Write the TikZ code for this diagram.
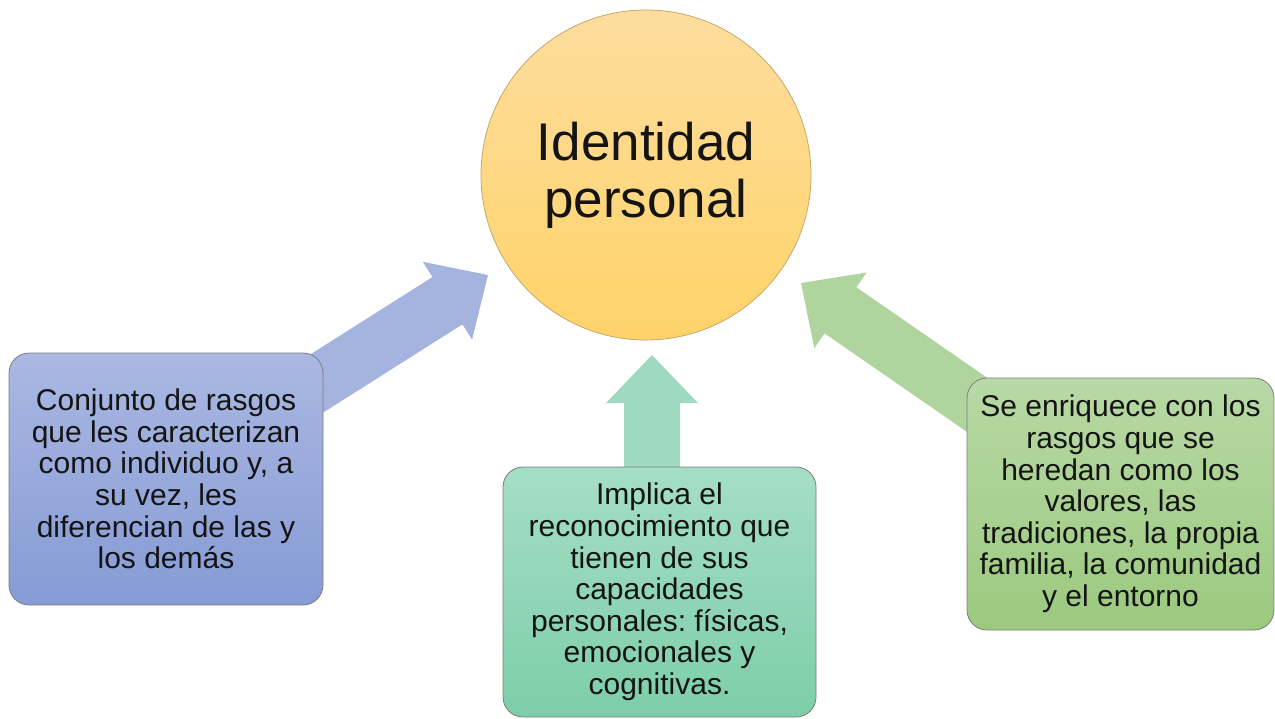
\documentclass[tikz,border=0pt]{standalone}
\usepackage{fontspec}
\setmainfont{Liberation Sans}
\usetikzlibrary{calc,backgrounds}
\frenchspacing
\definecolor{blueTop}{RGB}{170,184,226}
\definecolor{blueBot}{RGB}{134,155,213}
\definecolor{blueArr}{RGB}{164,180,223}
\definecolor{tealTop}{RGB}{165,222,198}
\definecolor{tealBot}{RGB}{125,206,168}
\definecolor{tealArr}{RGB}{160,217,193}
\definecolor{greenTop}{RGB}{184,217,166}
\definecolor{greenBot}{RGB}{155,201,126}
\definecolor{greenArr}{RGB}{176,212,158}
\definecolor{orTop}{RGB}{253,221,158}
\definecolor{orBot}{RGB}{255,211,105}
\definecolor{orLine}{RGB}{196,168,110}
\definecolor{boxLine}{RGB}{125,125,125}
\definecolor{txt}{RGB}{20,20,20}
% #1 colour, #2 start (named), #3 tip (named)
\newcommand\blockarr[3]{%
  \coordinate (hb) at ($(#3)!48pt!(#2)$);
  \fill[#1] ($(#2)!28pt!90:(#3)$) -- ($(hb)!28pt!90:(#3)$) -- ($(hb)!46pt!90:(#3)$)
    -- (#3) -- ($(hb)!46pt!-90:(#3)$) -- ($(hb)!28pt!-90:(#3)$) -- ($(#2)!28pt!-90:(#3)$) -- cycle;
}
\begin{document}
\begin{tikzpicture}[x=1pt,y=-1pt,
  box/.style={rounded corners=20pt, draw=boxLine, line width=0.8pt, align=center,
    inner sep=0pt, text=txt, font=\fontsize{30}{31.6}\selectfont\frenchspacing}]
\useasboundingbox (0,0) rectangle (1275,718);
\node[circle, minimum size=330pt, draw=orLine, line width=0.8pt, top color=orTop, bottom color=orBot,
  align=center, inner sep=0pt, text=txt, font=\fontsize{53}{57}\selectfont] (circ) at (646,175) {Identidad\\personal};
\node[box, top color=blueTop, bottom color=blueBot, minimum width=314pt, minimum height=252pt] (lbox) at (166,479)
  {Conjunto de rasgos\\que les caracterizan\\como individuo y, a\\su vez, les\\diferencian de las y\\los demás};
\node[box, top color=tealTop, bottom color=tealBot, minimum width=313pt, minimum height=250pt] (mbox) at (659.5,592)
  {Implica el\\reconocimiento que\\tienen de sus\\capacidades\\personales: físicas,\\emocionales y\\cognitivas.};
\node[box, top color=greenTop, bottom color=greenBot, minimum width=307pt, minimum height=252pt] (rbox) at (1120.5,504)
  {Se enriquece con los\\rasgos que se\\heredan como los\\valores, las\\tradiciones, la propia\\familia, la comunidad\\y el entorno};
\coordinate (ltip) at (488,275);
\coordinate (rtip) at (801,283);
\coordinate (mtip) at (652,355);
\coordinate (mstart) at (mbox.center -| mtip);
\begin{scope}[on background layer]
  \blockarr{blueArr}{lbox.center}{ltip}
  \blockarr{tealArr}{mstart}{mtip}
  \blockarr{greenArr}{rbox.center}{rtip}
\end{scope}
\end{tikzpicture}
\end{document}
